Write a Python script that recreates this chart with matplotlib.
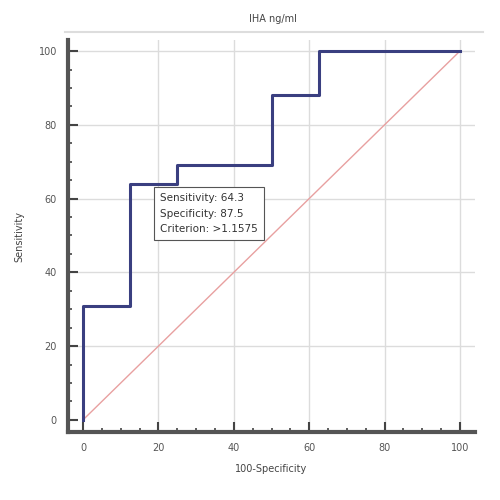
import matplotlib.pyplot as plt
from matplotlib.lines import Line2D
import numpy as np

# ROC step points (100-Specificity, Sensitivity)
fpr = [0, 0, 12.5, 12.5, 25, 25, 50, 50, 62.5, 62.5, 100]
tpr = [0, 31, 31, 64, 64, 69, 69, 88, 88, 100, 100]
ticks = [0, 20, 40, 60, 80, 100]
box_lines = ["Sensitivity: 64.3", "Specificity: 87.5", "Criterion: >1.1575"]

fig = plt.figure(figsize=(5, 5), dpi=100)
ax = fig.add_axes([0.136, 0.136, 0.814, 0.784])

ax.set_xlim(-4, 104)
ax.set_ylim(-3.3, 103)

for t in ticks[1:]:
    ax.axvline(t, color='#dcdcdc', lw=1, zorder=0)
    ax.axhline(t, color='#dcdcdc', lw=1, zorder=0)

ax.plot([0, 100], [0, 100], color='#e8a0a0', lw=1, zorder=1)
ax.step(fpr, tpr, where='post', color='#3a3f80', lw=2.2, zorder=4)

ax.text(20.5, 61.5, "\n".join(box_lines), fontsize=7.5, color='#333333',
        linespacing=1.7, va='top', zorder=3,
        bbox=dict(boxstyle='square,pad=0.6', fc='white', ec='#555555', lw=0.8))

for s in ['top', 'right']:
    ax.spines[s].set_visible(False)
for s in ['left', 'bottom']:
    ax.spines[s].set_linewidth(3)
    ax.spines[s].set_color('#555555')

ax.set_xticks(ticks)
ax.set_yticks(ticks)
ax.set_xticks(np.arange(0, 101, 5), minor=True)
ax.set_yticks(np.arange(0, 101, 5), minor=True)
ax.tick_params(which='major', direction='in', length=7, width=1.5, color='#444444',
               labelsize=7, labelcolor='#555555', pad=8)
ax.tick_params(which='minor', direction='in', length=3, width=1.2, color='#444444')

ax.set_xlabel("100-Specificity", fontsize=7, color='#444444', labelpad=8)
ax.set_ylabel("Sensitivity", fontsize=7, color='#444444', labelpad=10)

fig.text(0.545, 0.962, "IHA ng/ml", fontsize=7, color='#444444', ha='center', va='center')
fig.add_artist(Line2D([0.13, 0.965], [0.936, 0.936], color='#dddddd', lw=1.5))

fig.savefig("out.png", dpi=100)
